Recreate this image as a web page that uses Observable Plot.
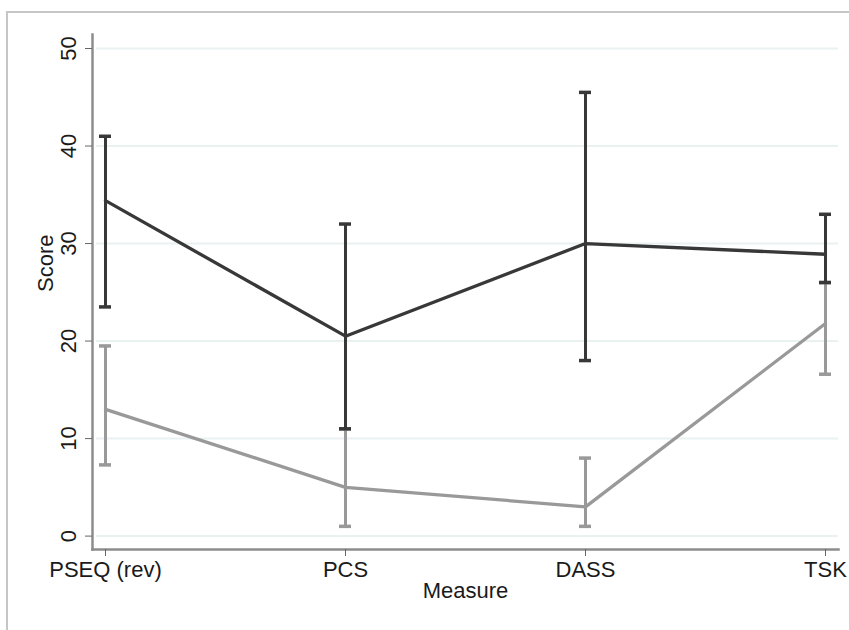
<!DOCTYPE html>
<html>
<head>
<meta charset="utf-8">
<script src="https://cdn.jsdelivr.net/npm/d3@7"></script>
<script src="https://cdn.jsdelivr.net/npm/@observablehq/plot@0.6"></script>
<style>
  html, body { margin: 0; padding: 0; background: #fff; overflow: hidden; width: 849px; height: 630px; }
  #wrap { position: relative; width: 849px; height: 630px; overflow: hidden; }
  #border { position: absolute; left: 6px; top: 11px; width: 900px; height: 700px; border: 2px solid #c6c6c6; box-sizing: border-box; pointer-events: none; }
  #chart { position: absolute; left: 0; top: 0; }
</style>
</head>
<body>
<div id="wrap"><div id="chart"></div><div id="border"></div></div>
<script>
const measures = ["PSEQ (rev)", "PCS", "DASS", "TSK"];
// light gray series
const grayMean = [13, 5, 3, 21.8];
const grayLow = [7.3, 1, 1, 16.6];
const grayHigh = [19.5, 11, 8, 26];
// dark series
const darkMean = [34.4, 20.5, 30, 28.9];
const darkLow = [23.5, 11, 18, 26];
const darkHigh = [41, 32, 45.5, 33];
const yTicks = [0, 10, 20, 30, 40, 50];

const rows = [];
measures.forEach((m, i) => {
  rows.push({measure: m, group: "gray", mean: grayMean[i], lo: grayLow[i], hi: grayHigh[i]});
});
measures.forEach((m, i) => {
  rows.push({measure: m, group: "dark", mean: darkMean[i], lo: darkLow[i], hi: darkHigh[i]});
});
const gray = rows.filter(d => d.group === "gray");
const dark = rows.filter(d => d.group === "dark");
const colors = {gray: "#999999", dark: "#383838"};
const font = "Arial, 'Liberation Sans', Helvetica, sans-serif";

function series(data, color) {
  return [
    Plot.ruleX(data, {x: "measure", y1: "lo", y2: "hi", stroke: color, strokeWidth: 3}),
    Plot.ruleY(data, {x1: "measure", x2: "measure", y: "hi", stroke: color, strokeWidth: 3.5, insetLeft: -6, insetRight: -6}),
    Plot.ruleY(data, {x1: "measure", x2: "measure", y: "lo", stroke: color, strokeWidth: 3.5, insetLeft: -6, insetRight: -6}),
    Plot.line(data, {x: "measure", y: "mean", stroke: color, strokeWidth: 3.3})
  ];
}

const chart = Plot.plot({
  width: 849,
  height: 630,
  marginLeft: 92,
  marginRight: 11,
  marginTop: 34,
  marginBottom: 81,
  style: {fontFamily: font, fontSize: "22px", color: "#1a1a1a", background: "transparent"},
  x: {type: "point", domain: measures, range: [105, 825], padding: 0},
  y: {domain: [0, 50], range: [535.6, 48]},
  marks: [
    Plot.gridY(yTicks, {stroke: "#eaf1f1", strokeOpacity: 1, strokeWidth: 2, insetLeft: 4}),
    Plot.frame({anchor: "left", stroke: "#8c8c8c", strokeWidth: 2.5}),
    Plot.frame({anchor: "bottom", stroke: "#8c8c8c", strokeWidth: 2.5}),
    Plot.axisY({ticks: yTicks, tickSize: 7, tickRotate: -90, tickPadding: 10, stroke: "#666", fontSize: 22, fill: "#1a1a1a", label: null}),
    Plot.axisX({tickSize: 7, tickPadding: 5, stroke: "#666", fontSize: 22, fill: "#1a1a1a", label: null}),
    ...series(gray, colors.gray),
    ...series(dark, colors.dark),
    Plot.text(["Measure"], {frameAnchor: "bottom", dy: 48, fontSize: 22, fill: "#1a1a1a"}),
    Plot.text(["Score"], {frameAnchor: "left", dx: -47, rotate: -90, fontSize: 22, fill: "#1a1a1a"})
  ]
});
document.getElementById("chart").appendChild(chart);
</script>
</body>
</html>
